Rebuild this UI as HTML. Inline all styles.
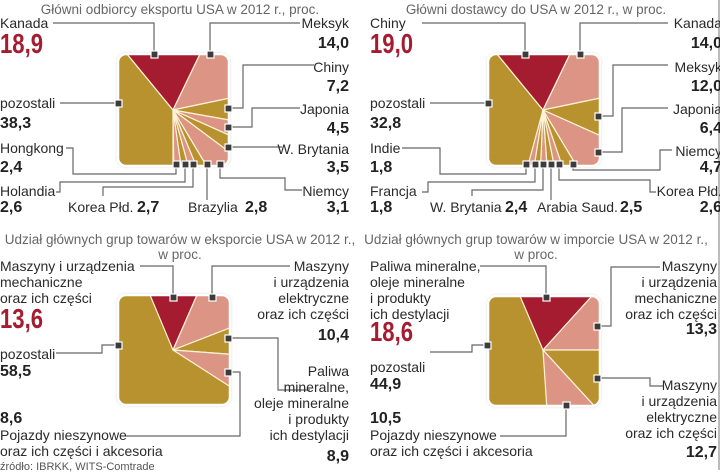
<!DOCTYPE html>
<html><head><meta charset="utf-8"><style>
html,body{margin:0;padding:0;background:#fff;}
svg{display:block;}
text{font-family:"Liberation Sans",sans-serif;font-size:14px;fill:#2a2a2a;}
.t{fill:#666;font-size:13.5px;}
.n{font-family:"Liberation Sans Narrow","Liberation Sans",sans-serif;font-weight:bold;font-size:16px;fill:#222;}
.b{font-family:"Liberation Sans Narrow","Liberation Sans",sans-serif;font-weight:bold;font-size:28px;fill:#a51c30;}
.s{font-size:11px;fill:#555;}
.l{fill:none;stroke:#666;stroke-width:1.2;}
.m{fill:#3c3c3c;stroke:#fff;stroke-width:1.2;}
.fr{fill:none;stroke:#fff;stroke-width:2.5;}
</style></head><body>
<svg width="720" height="474" viewBox="0 0 720 474">
<defs>
<clipPath id="cA"><rect x="118" y="54" width="111" height="112" rx="8"/></clipPath>
<clipPath id="cB"><rect x="488" y="54" width="112" height="112" rx="8"/></clipPath>
<clipPath id="cC"><rect x="118" y="295" width="112" height="110" rx="8"/></clipPath>
<clipPath id="cD"><rect x="488" y="296" width="112" height="110" rx="8"/></clipPath>
<filter id="sh"><feDropShadow dx="0" dy="0" stdDeviation="1.5" flood-color="#000" flood-opacity="0.35"/></filter>
</defs>
<line x1="719" y1="0" x2="719" y2="470" stroke="#777" stroke-width="1"/>

<!-- Chart A -->
<text class="t" x="180" y="14" text-anchor="middle">Główni odbiorcy eksportu USA w 2012 r., proc.</text>
<rect x="118" y="54" width="111" height="112" rx="8" fill="#b8922f" filter="url(#sh)"/>
<g clip-path="url(#cA)" stroke="#fff3d8" stroke-width="1.2" stroke-linejoin="round">
<polygon points="110,40 127,54 173,110 173,180 110,180" fill="#b8922f"/>
<polygon points="127,54 200,54 173,110" fill="#a51c30"/>
<polygon points="200,54 240,54 240,96 173,110" fill="#dc9585"/>
<polygon points="240,96 240,122 173,110" fill="#b8922f"/>
<polygon points="240,122 240,140 173,110" fill="#dc9585"/>
<polygon points="240,140 240,160 173,110" fill="#b8922f"/>
<polygon points="240,160 240,180 215,180 173,110" fill="#dc9585"/>
<polygon points="215,180 202,180 173,110" fill="#b8922f"/>
<polygon points="202,180 192,180 173,110" fill="#dc9585"/>
<polygon points="192,180 183,180 173,110" fill="#b8922f"/>
<polygon points="183,180 174,180 173,110" fill="#dc9585"/>
</g>
<rect class="fr" x="118" y="54" width="111" height="112" rx="8"/>
<polyline class="l" points="53,23 154,23 154,54"/>
<polyline class="l" points="210,54 210,23 300,23"/>
<polyline class="l" points="228,108 243,108 243,65 314,65"/>
<polyline class="l" points="228,127 252,127 252,108 300,108"/>
<polyline class="l" points="228,147 282,147"/>
<polyline class="l" points="220,164 220,178 285,178 285,190 302,190"/>
<polyline class="l" points="207,164 207,200"/>
<polyline class="l" points="193,164 193,187 103,187 103,196"/>
<polyline class="l" points="185,164 185,182 60,182 60,192 56,192"/>
<polyline class="l" points="176,164 176,174 73,174 73,148 66,148"/>
<polyline class="l" points="60,103 118,103"/>
<rect class="m" x="151" y="51" width="7" height="7"/><rect class="m" x="207" y="51" width="7" height="7"/>
<rect class="m" x="225" y="105" width="7" height="7"/><rect class="m" x="225" y="124" width="7" height="7"/>
<rect class="m" x="225" y="144" width="7" height="7"/><rect class="m" x="115" y="100" width="7" height="7"/>
<rect class="m" x="173" y="161" width="7" height="7"/><rect class="m" x="182" y="161" width="7" height="7"/>
<rect class="m" x="190" y="161" width="7" height="7"/><rect class="m" x="204" y="161" width="7" height="7"/>
<rect class="m" x="217" y="161" width="7" height="7"/>
<text x="0" y="28">Kanada</text><text class="b" x="0" y="53" textLength="43" lengthAdjust="spacingAndGlyphs">18,9</text>
<text x="0" y="108">pozostali</text><text class="n" x="0" y="128">38,3</text>
<text x="0" y="153">Hongkong</text><text class="n" x="0" y="172">2,4</text>
<text x="0" y="196">Holandia</text><text class="n" x="0" y="212">2,6</text>
<text x="68" y="212">Korea Płd.</text><text class="n" x="137" y="212">2,7</text>
<text x="188" y="212">Brazylia</text><text class="n" x="245" y="212">2,8</text>
<g text-anchor="end">
<text x="349" y="28">Meksyk</text><text class="n" x="349" y="48">14,0</text>
<text x="349" y="72">Chiny</text><text class="n" x="349" y="91">7,2</text>
<text x="349" y="114">Japonia</text><text class="n" x="349" y="133">4,5</text>
<text x="349" y="154">W. Brytania</text><text class="n" x="349" y="172">3,5</text>
<text x="349" y="196">Niemcy</text><text class="n" x="349" y="212">3,1</text>
</g>

<!-- Chart B -->
<text class="t" x="536" y="14" text-anchor="middle">Główni dostawcy do USA w 2012 r., w proc.</text>
<rect x="488" y="54" width="112" height="112" rx="8" fill="#b8922f" filter="url(#sh)"/>
<g clip-path="url(#cB)" stroke="#fff3d8" stroke-width="1.2" stroke-linejoin="round">
<polygon points="480,40 497,54 543,110 530,180 480,180" fill="#b8922f"/>
<polygon points="497,54 570,54 543,110" fill="#a51c30"/>
<polygon points="570,54 610,54 610,96 543,110" fill="#dc9585"/>
<polygon points="610,96 610,140 543,110" fill="#b8922f"/>
<polygon points="610,140 610,180 585,180 543,110" fill="#dc9585"/>
<polygon points="585,180 567,180 543,110" fill="#b8922f"/>
<polygon points="567,180 557,180 543,110" fill="#dc9585"/>
<polygon points="557,180 548,180 543,110" fill="#b8922f"/>
<polygon points="548,180 540,180 543,110" fill="#dc9585"/>
<polygon points="540,180 532,180 543,110" fill="#b8922f"/>
<polygon points="532,180 524,180 543,110" fill="#dc9585"/>
</g>
<rect class="fr" x="488" y="54" width="112" height="112" rx="8"/>
<polyline class="l" points="422,23 525,23 525,54"/>
<polyline class="l" points="580,54 580,23 668,23"/>
<polyline class="l" points="598,116 613,116 613,65 668,65"/>
<polyline class="l" points="598,152 622,152 622,108 668,108"/>
<polyline class="l" points="573,164 573,170 660,170 660,150 672,150"/>
<polyline class="l" points="559,164 559,180 650,180 650,192 656,192"/>
<polyline class="l" points="551,164 551,200"/>
<polyline class="l" points="543,164 543,190 472,190 472,196"/>
<polyline class="l" points="535,164 535,182 428,182 428,192 422,192"/>
<polyline class="l" points="526,164 526,174 440,174 440,148 402,148"/>
<polyline class="l" points="430,103 488,103"/>
<rect class="m" x="522" y="51" width="7" height="7"/><rect class="m" x="577" y="51" width="7" height="7"/>
<rect class="m" x="595" y="113" width="7" height="7"/><rect class="m" x="595" y="149" width="7" height="7"/>
<rect class="m" x="485" y="100" width="7" height="7"/>
<rect class="m" x="523" y="161" width="7" height="7"/><rect class="m" x="532" y="161" width="7" height="7"/>
<rect class="m" x="540" y="161" width="7" height="7"/><rect class="m" x="548" y="161" width="7" height="7"/>
<rect class="m" x="556" y="161" width="7" height="7"/><rect class="m" x="570" y="161" width="7" height="7"/>
<text x="370" y="28">Chiny</text><text class="b" x="370" y="53" textLength="43" lengthAdjust="spacingAndGlyphs">19,0</text>
<text x="370" y="108">pozostali</text><text class="n" x="370" y="128">32,8</text>
<text x="370" y="153">Indie</text><text class="n" x="370" y="172">1,8</text>
<text x="370" y="196">Francja</text><text class="n" x="370" y="212">1,8</text>
<text x="430" y="212">W. Brytania</text><text class="n" x="505" y="212">2,4</text>
<text x="537" y="212">Arabia Saud.</text><text class="n" x="620" y="212">2,5</text>
<g text-anchor="end">
<text x="722" y="28">Kanada</text><text class="n" x="722" y="48">14,0</text>
<text x="722" y="72">Meksyk</text><text class="n" x="722" y="91">12,0</text>
<text x="722" y="114">Japonia</text><text class="n" x="722" y="133">6,4</text>
<text x="722" y="156">Niemcy</text><text class="n" x="722" y="172">4,7</text>
<text x="722" y="196">Korea Płd.</text><text class="n" x="722" y="212">2,6</text>
</g>

<!-- Chart C -->
<text class="t" x="180" y="244" text-anchor="middle">Udział głównych grup towarów w eksporcie USA w 2012 r.,</text>
<text class="t" x="180" y="259" text-anchor="middle">w proc.</text>
<rect x="118" y="295" width="112" height="110" rx="8" fill="#b8922f" filter="url(#sh)"/>
<g clip-path="url(#cC)" stroke="#fff3d8" stroke-width="1.2" stroke-linejoin="round">
<polygon points="150,295 197,295 173,350" fill="#a51c30"/>
<polygon points="197,295 240,295 240,324 173,350" fill="#dc9585"/>
<polygon points="240,324 240,355 173,350" fill="#b8922f"/>
<polygon points="240,355 240,393 173,350" fill="#dc9585"/>
</g>
<rect class="fr" x="118" y="295" width="112" height="110" rx="8"/>
<polyline class="l" points="140,266 173,266 173,297"/>
<polyline class="l" points="212,297 212,266 290,266"/>
<polyline class="l" points="228,338 278,338 278,390 310,390"/>
<polyline class="l" points="228,372 240,372 240,436 126,436"/>
<polyline class="l" points="56,353 102,353 102,345 118,345"/>
<rect class="m" x="170" y="294" width="7" height="7"/><rect class="m" x="209" y="294" width="7" height="7"/>
<rect class="m" x="225" y="335" width="7" height="7"/><rect class="m" x="225" y="369" width="7" height="7"/>
<rect class="m" x="115" y="342" width="7" height="7"/>
<text x="0" y="271">Maszyny i urządzenia</text>
<text x="0" y="287">mechaniczne</text>
<text x="0" y="303">oraz ich części</text>
<text class="b" x="0" y="328" textLength="43" lengthAdjust="spacingAndGlyphs">13,6</text>
<text x="0" y="359">pozostali</text><text class="n" x="0" y="376">58,5</text>
<text class="n" x="0" y="423">8,6</text>
<text x="0" y="440">Pojazdy nieszynowe</text>
<text x="0" y="456">oraz ich części i akcesoria</text>
<text class="s" x="0" y="470">źródło: IBRKK, WITS-Comtrade</text>
<g text-anchor="end">
<text x="349" y="271">Maszyny</text><text x="349" y="287">i urządzenia</text>
<text x="349" y="303">elektryczne</text><text x="349" y="319">oraz ich części</text>
<text class="n" x="349" y="340">10,4</text>
<text x="349" y="376">Paliwa</text><text x="349" y="392">mineralne,</text>
<text x="349" y="408">oleje mineralne</text><text x="349" y="424">i produkty</text>
<text x="349" y="440">ich destylacji</text>
<text class="n" x="349" y="461">8,9</text>
</g>

<!-- Chart D -->
<text class="t" x="536" y="244" text-anchor="middle">Udział głównych grup towarów w imporcie USA w 2012 r.,</text>
<text class="t" x="536" y="259" text-anchor="middle">w proc.</text>
<rect x="488" y="296" width="112" height="110" rx="8" fill="#b8922f" filter="url(#sh)"/>
<g clip-path="url(#cD)" stroke="#fff3d8" stroke-width="1.2" stroke-linejoin="round">
<polygon points="520,296 592,296 543,350" fill="#a51c30"/>
<polygon points="592,296 610,290 610,350 543,350" fill="#dc9585"/>
<polygon points="610,350 610,420 598,410 543,350" fill="#b8922f"/>
<polygon points="598,410 547,410 543,350" fill="#dc9585"/>
</g>
<rect class="fr" x="488" y="296" width="112" height="110" rx="8"/>
<polyline class="l" points="480,266 546,266 546,297"/>
<polyline class="l" points="597,326 611,326 611,267 660,267"/>
<polyline class="l" points="597,378 650,378 650,386 663,386"/>
<polyline class="l" points="566,405 566,436 500,436"/>
<polyline class="l" points="430,352 472,352 472,345 488,345"/>
<rect class="m" x="543" y="294" width="7" height="7"/><rect class="m" x="594" y="323" width="7" height="7"/>
<rect class="m" x="594" y="375" width="7" height="7"/><rect class="m" x="563" y="402" width="7" height="7"/>
<rect class="m" x="484" y="342" width="7" height="7"/>
<text x="370" y="271">Paliwa mineralne,</text><text x="370" y="287">oleje mineralne</text>
<text x="370" y="303">i produkty</text><text x="370" y="319">ich destylacji</text>
<text class="b" x="370" y="341" textLength="43" lengthAdjust="spacingAndGlyphs">18,6</text>
<text x="370" y="372">pozostali</text><text class="n" x="370" y="389">44,9</text>
<text class="n" x="370" y="423">10,5</text>
<text x="370" y="440">Pojazdy nieszynowe</text>
<text x="370" y="456">oraz ich części i akcesoria</text>
<g text-anchor="end">
<text x="717" y="271">Maszyny</text><text x="717" y="287">i urządzenia</text>
<text x="717" y="303">mechaniczne</text><text x="717" y="319">oraz ich części</text>
<text class="n" x="717" y="334">13,3</text>
<text x="717" y="390">Maszyny</text><text x="717" y="406">i urządzenia</text>
<text x="717" y="422">elektryczne</text><text x="717" y="438">oraz ich części</text>
<text class="n" x="717" y="457">12,7</text>
</g>
</svg>
</body></html>
